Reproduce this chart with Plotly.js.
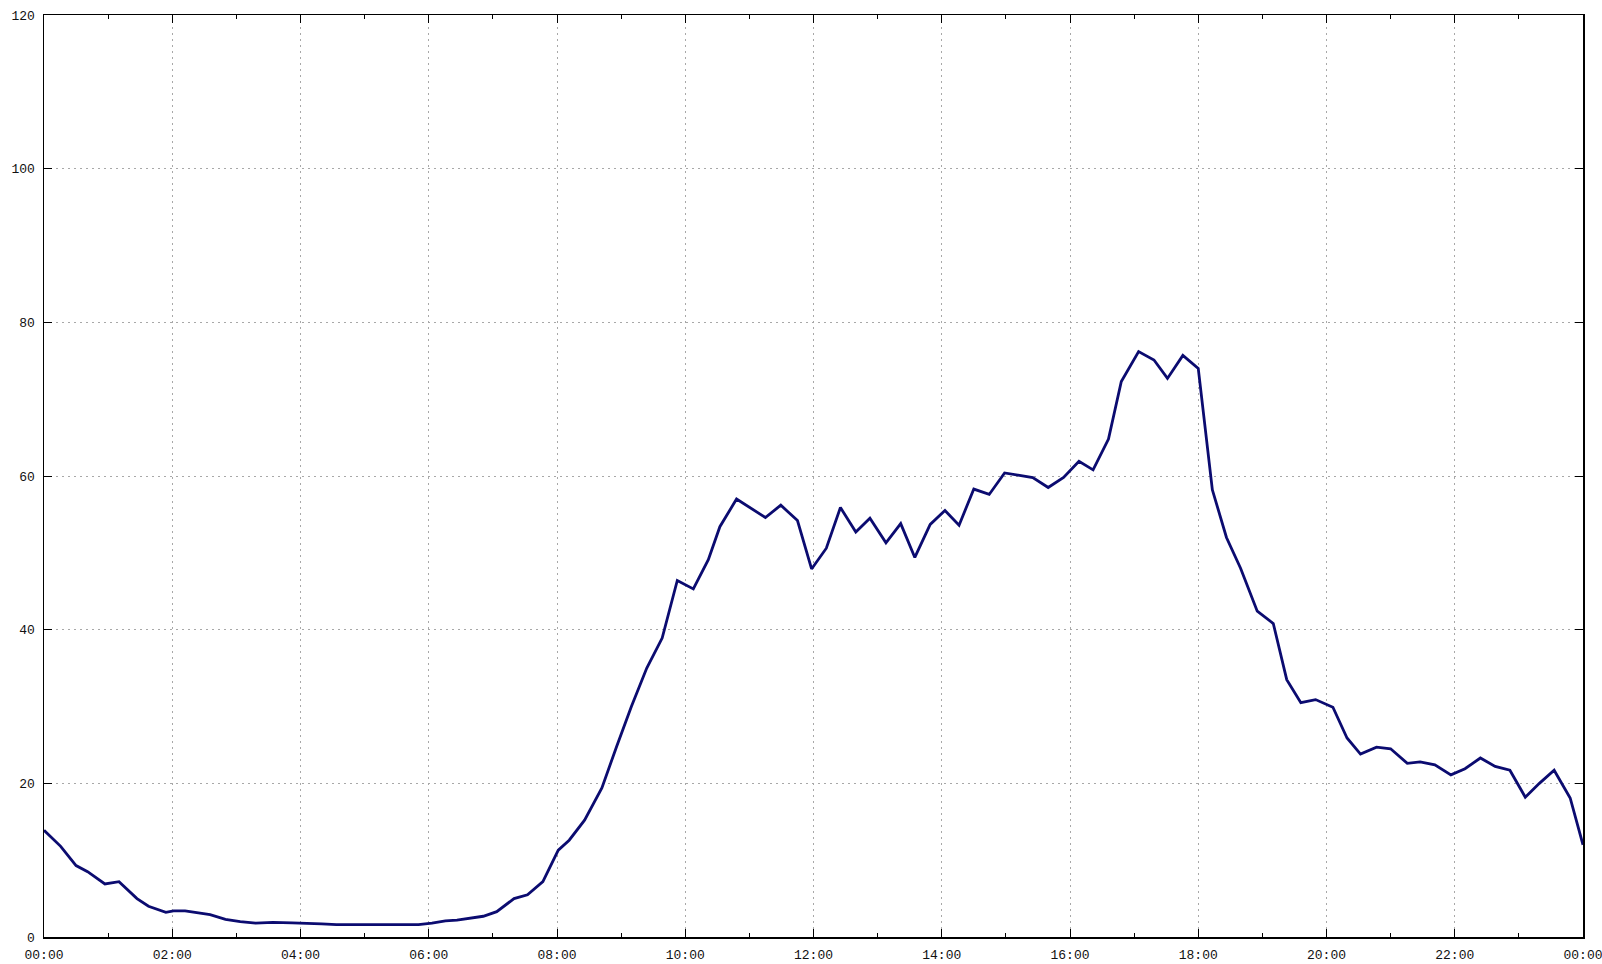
<!DOCTYPE html>
<html>
<head>
<meta charset="utf-8">
<script src="https://cdn.plot.ly/plotly-3.0.1.min.js"></script>
<style>html,body{margin:0;padding:0;background:#fff;}#chart{width:1602px;height:964px;}</style>
</head>
<body>
<div id="chart"></div>
<script>
// Time of day in hours
const hours = [0.0, 0.26, 0.5, 0.68, 0.95, 1.17, 1.45, 1.63, 1.9, 2.02, 2.2, 2.41, 2.59, 2.83, 3.06, 3.3, 3.57, 3.87, 4.1, 4.33, 4.56, 4.8, 5.04, 5.3, 5.56, 5.84, 6.05, 6.26, 6.44, 6.64, 6.85, 7.06, 7.33, 7.54, 7.78, 8.02, 8.19, 8.43, 8.7, 8.93, 9.16, 9.4, 9.64, 9.876, 10.126, 10.36, 10.54, 10.8, 11.02, 11.25, 11.49, 11.75, 11.97, 12.2, 12.42, 12.66, 12.88, 13.13, 13.36, 13.58, 13.82, 14.05, 14.27, 14.5, 14.74, 14.98, 15.19, 15.42, 15.66, 15.9, 16.14, 16.36, 16.6, 16.8, 17.07, 17.31, 17.52, 17.76, 18.0, 18.22, 18.44, 18.66, 18.92, 19.17, 19.38, 19.6, 19.83, 20.1, 20.32, 20.53, 20.78, 21.0, 21.26, 21.46, 21.69, 21.94, 22.16, 22.4, 22.63, 22.86, 23.1, 23.32, 23.55, 23.8, 24.0];
// Measured values
const values = [13.9, 11.8, 9.3, 8.5, 6.9, 7.2, 5.0, 4.0, 3.2, 3.4, 3.4, 3.1, 2.9, 2.3, 2.0, 1.8, 1.9, 1.85, 1.8, 1.7, 1.6, 1.6, 1.6, 1.6, 1.6, 1.6, 1.8, 2.1, 2.2, 2.4, 2.7, 3.3, 5.0, 5.5, 7.2, 11.3, 12.6, 15.2, 19.4, 24.8, 30.0, 35.0, 38.9, 46.4, 45.3, 49.1, 53.4, 57.0, 55.8, 54.6, 56.2, 54.2, 47.9, 50.6, 55.9, 52.7, 54.5, 51.3, 53.8, 49.4, 53.7, 55.5, 53.6, 58.3, 57.6, 60.4, 60.1, 59.8, 58.5, 59.8, 61.9, 60.8, 64.8, 72.3, 76.2, 75.1, 72.7, 75.7, 74.0, 58.2, 52.0, 48.0, 42.4, 40.8, 33.5, 30.5, 30.9, 29.9, 25.9, 23.8, 24.7, 24.5, 22.6, 22.8, 22.4, 21.1, 21.9, 23.3, 22.2, 21.7, 18.2, 20.0, 21.7, 18.1, 12.0];
const xTickVals = [0, 2, 4, 6, 8, 10, 12, 14, 16, 18, 20, 22, 24];
const xTickText = ["00:00", "02:00", "04:00", "06:00", "08:00", "10:00", "12:00", "14:00", "16:00", "18:00", "20:00", "22:00", "00:00"];
const yTickVals = [0, 20, 40, 60, 80, 100, 120];

const tickFont = {family: "Liberation Mono, DejaVu Sans Mono, monospace", size: 13, color: "#111"};

const trace = {
  x: hours, y: values, type: "scatter", mode: "lines",
  line: {color: "#0b0b70", width: 2.8},
  hoverinfo: "skip"
};

const layout = {
  width: 1602, height: 964,
  margin: {l: 44, r: 19, t: 15, b: 27},
  paper_bgcolor: "#fff", plot_bgcolor: "#fff",
  showlegend: false,
  xaxis: {
    range: [0, 24], tickmode: "array", tickvals: xTickVals, ticktext: xTickText,
    ticks: "inside", ticklen: 8, tickwidth: 1, tickcolor: "#000",
    showline: true, linecolor: "#000", linewidth: 1.5, mirror: "ticks",
    showgrid: true, gridcolor: "#a8a8a8", gridwidth: 1, griddash: "2px,4px",
    zeroline: false, tickfont: tickFont, fixedrange: true, ticklabelstandoff: 5,
    ticklabeloverflow: "allow",
    minor: {tickmode: "linear", tick0: 0, dtick: 1, ticks: "inside", ticklen: 4, tickcolor: "#000", showgrid: false}
  },
  yaxis: {
    range: [0, 120], tickmode: "array", tickvals: yTickVals,
    ticks: "inside", ticklen: 8, tickwidth: 1, tickcolor: "#000",
    showline: true, linecolor: "#000", linewidth: 1.5, mirror: "ticks",
    showgrid: true, gridcolor: "#a8a8a8", gridwidth: 1, griddash: "2px,4px",
    zeroline: false, tickfont: tickFont, fixedrange: true, ticklabelstandoff: 5,
    ticklabeloverflow: "allow"
  }
};

Plotly.newPlot("chart", [trace], layout, {displayModeBar: false, staticPlot: true});
</script>
</body>
</html>
